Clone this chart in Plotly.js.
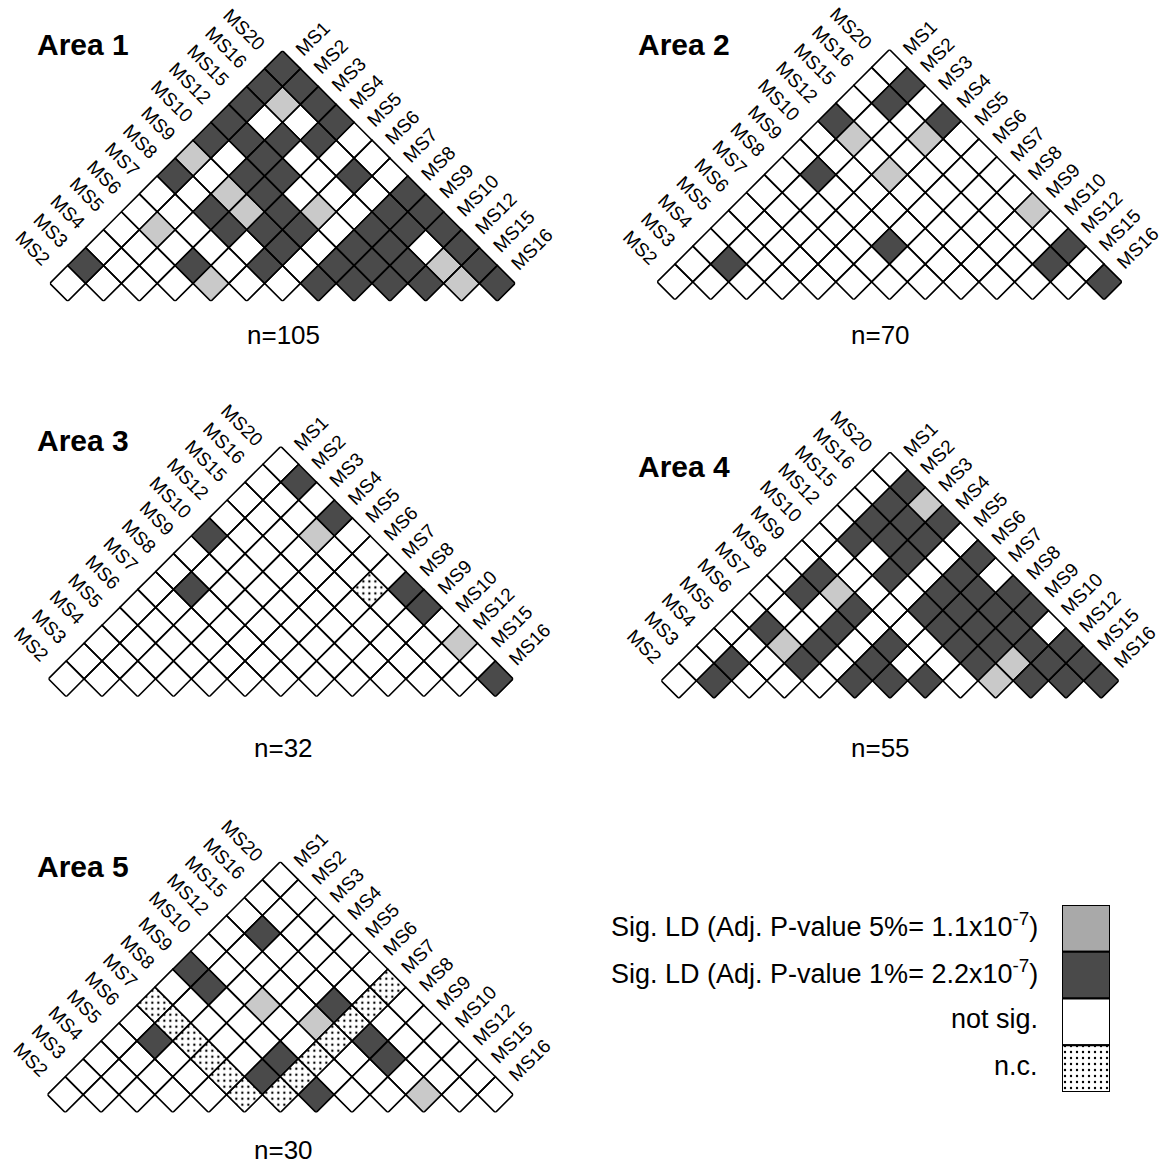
<!DOCTYPE html>
<html><head><meta charset="utf-8">
<script src="https://cdn.plot.ly/plotly-3.0.1.min.js"></script>
<style>html,body{margin:0;padding:0;background:#fff}</style>
</head><body><div id="chart" style="width:1163px;height:1164px"></div>
<script>
// ---- data ----
const leftMarkers  = ['MS2','MS3','MS4','MS5','MS6','MS7','MS8','MS9','MS10','MS12','MS15','MS16','MS20'];
const rightMarkers = ['MS1','MS2','MS3','MS4','MS5','MS6','MS7','MS8','MS9','MS10','MS12','MS15','MS16'];
const areaNames   = ['Area 1','Area 2','Area 3','Area 4','Area 5'];
const sampleSizes = ['n=105','n=70','n=32','n=55','n=30'];
// rows of the triangle from the apex down; D = sig. 1%, G = sig. 5%, . = not sig., N = n.c.
const area1 = ['D','DD','DGD','D..D','DDDD.','G.D...','D.DD.D.','..GD...D','..DGDG.DD','.G.DDD.DDD','.....D.DD.D','D..D.D.DDDGD','....G..DDDDGD'];
const area2 = ['.','.D','.D.','D..D','.G.G.','......','.D.G...','........','........G','..........','.....D....D','.D........D.','............D'];
const area3 = ['.','.D','...','...D','D..G.','......','.......','.D....ND','........D','..........','..........G','............','............D'];
const area4 = ['.','.D','.DG','.DDD','.DDD.','...D.D','.D.D.D.','.DG..DDD','...D.DDDD','.D.D..DDD.','..GD.D.DDDD','.D.D.D..DGDD','.D...DDD.GDDD'];
const area5 = ['.','..','...','.D..','.....','D.....','.D....N','N..G.DN.','.N...GN..','.DN...ND..','...N.DN.D..','....NDN.....','.....NND..G..'];
const legendLabels = ['Sig. LD (Adj. P-value 5%= 1.1x10<sup>-7</sup>)','Sig. LD (Adj. P-value 1%= 2.2x10<sup>-7</sup>)','not sig.','n.c.'];
const legendCodes  = ['G','D','.','N'];

// ---- styling / layout geometry ----
const W = 1163, H = 1164;
const FONT = 'Liberation Sans, Arial, Helvetica, sans-serif';
const areas = [area1, area2, area3, area4, area5];
const geom = [
  {cx: 282.5, top: 50.7, s: 17.9, title: [35, 45],  n: [283, 335]},
  {cx: 889.5, top: 49.5, s: 17.88, title: [636, 45], n: [880, 335]},
  {cx: 280.8, top: 446.4, s: 17.88, title: [35, 440], n: [283, 748]},
  {cx: 890.0, top: 452.0, s: 17.6, title: [636, 466], n: [880, 748]},
  {cx: 280.3, top: 861.7, s: 17.92, title: [35, 866], n: [283, 1150]}
];
const cellFill = {'D': '#4a4a4a', 'G': '#c9c9c9', '.': '#ffffff', 'N': '#ffffff'};
const legendFill = {'D': '#4a4a4a', 'G': '#a9a9a9', '.': '#ffffff', 'N': '#ffffff'};
const dotPattern = {shape: '.', fgcolor: '#000', bgcolor: '#fff', size: 6, solidity: 0.12};
const legendBox = {x0: 1062, x1: 1110, y0: 905, y1: 1092, textRight: 1040};

const traces = [];
const annotations = [];
const layout = {
  width: W, height: H, margin: {l: 0, r: 0, t: 0, b: 0},
  paper_bgcolor: '#fff', plot_bgcolor: 'rgba(0,0,0,0)', showlegend: false,
  font: {family: FONT, color: '#000'}
};

function diamondTrace(cells, code, fill, xa, ya) {
  const xs = [], ys = [];
  cells.forEach(c => {
    xs.push(c[0] - 1, c[0], c[0] + 1, c[0], c[0] - 1, null);
    ys.push(c[1], c[1] + 1, c[1], c[1] - 1, c[1], null);
  });
  const t = {type: 'scatter', mode: 'lines', x: xs, y: ys, xaxis: xa, yaxis: ya,
    fill: 'toself', fillcolor: fill, line: {color: '#000', width: 1.6},
    hoverinfo: 'skip', showlegend: false};
  if (code === 'N') t.fillpattern = dotPattern;
  return t;
}

areas.forEach((rows, i) => {
  const g = geom[i];
  const idx = i + 1;
  const xa = 'x' + (idx === 1 ? '' : idx), ya = 'y' + (idx === 1 ? '' : idx);
  const xk = 'xaxis' + (idx === 1 ? '' : idx), yk = 'yaxis' + (idx === 1 ? '' : idx);
  layout[xk] = {domain: [(g.cx - 13 * g.s) / W, (g.cx + 13 * g.s) / W], range: [-13, 13],
    visible: false, fixedrange: true, anchor: ya};
  layout[yk] = {domain: [1 - (g.top + 14 * g.s) / H, 1 - g.top / H], range: [-13, 1],
    visible: false, fixedrange: true, anchor: xa};
  ['.', 'G', 'D', 'N'].forEach(code => {
    const cells = [];
    rows.forEach((row, d) => {
      for (let k = 0; k < row.length; k++) {
        if (row[k] === code) cells.push([2 * k - d, -d]);
      }
    });
    if (cells.length) traces.push(diamondTrace(cells, code, cellFill[code], xa, ya));
  });
  // right-edge labels (MS1..MS16)
  rightMarkers.forEach((m, b) => {
    const u = 0.35;
    annotations.push({xref: xa, yref: ya, x: b + u, y: -b + u, text: m, showarrow: false,
      textangle: -45, xanchor: 'left', yanchor: 'bottom', font: {size: 19, family: FONT}});
  });
  // left-edge labels (MS2..MS20)
  leftMarkers.forEach((m, a) => {
    const u = 0.6, c = a - 12;
    annotations.push({xref: xa, yref: ya, x: c - u, y: c + u, text: m, showarrow: false,
      textangle: 45, xanchor: 'right', yanchor: 'bottom', font: {size: 19, family: FONT}});
  });
  annotations.push({xref: 'paper', yref: 'paper', x: g.title[0] / W, y: 1 - g.title[1] / H,
    text: areaNames[i], showarrow: false, xanchor: 'left', yanchor: 'middle',
    font: {size: 30, family: FONT, weight: 'bold'}});
  annotations.push({xref: 'paper', yref: 'paper', x: g.n[0] / W, y: 1 - g.n[1] / H,
    text: sampleSizes[i], showarrow: false, xanchor: 'center', yanchor: 'middle',
    font: {size: 26, family: FONT}});
});

// legend as its own small axis
const lb = legendBox;
layout.xaxis6 = {domain: [lb.x0 / W, lb.x1 / W], range: [0, 1], visible: false, fixedrange: true, anchor: 'y6'};
layout.yaxis6 = {domain: [1 - lb.y1 / H, 1 - lb.y0 / H], range: [0, 4], visible: false, fixedrange: true, anchor: 'x6'};
const rowH = (lb.y1 - lb.y0) / legendCodes.length;
legendCodes.forEach((code, i) => {
  const y0 = 3 - i, y1 = 4 - i;
  const t = {type: 'scatter', mode: 'lines', x: [0, 1, 1, 0, 0], y: [y0, y0, y1, y1, y0],
    xaxis: 'x6', yaxis: 'y6', fill: 'toself', fillcolor: legendFill[code],
    line: {color: '#000', width: 2}, hoverinfo: 'skip', showlegend: false};
  if (code === 'N') t.fillpattern = dotPattern;
  traces.push(t);
  const yc = lb.y0 + rowH * (i + 0.5) - 3;
  annotations.push({xref: 'paper', yref: 'paper', x: lb.textRight / W, y: 1 - yc / H, text: legendLabels[i],
    showarrow: false, xanchor: 'right', yanchor: 'middle', font: {size: 27, family: FONT}});
});

layout.annotations = annotations;
Plotly.newPlot('chart', traces, layout, {displayModeBar: false, staticPlot: true});
</script>
</body></html>
